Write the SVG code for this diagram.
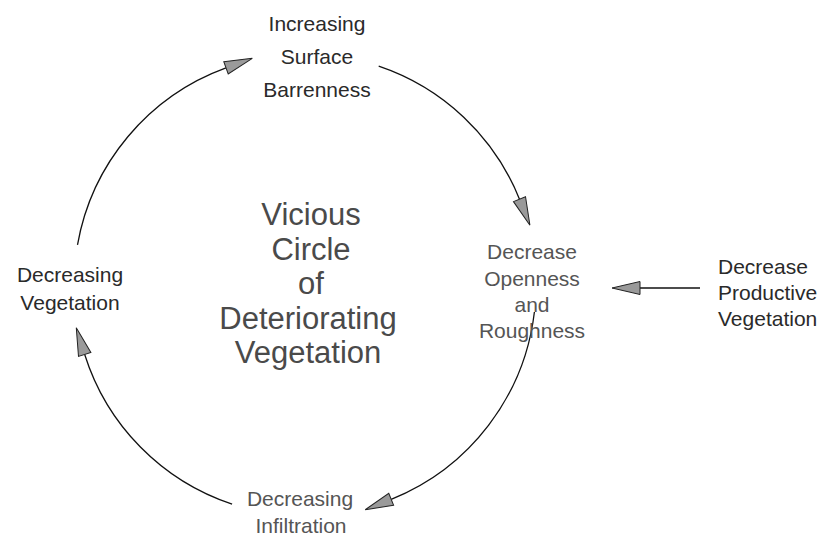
<svg xmlns="http://www.w3.org/2000/svg" width="831" height="537" viewBox="0 0 831 537">
<style>
.t{font-family:"Liberation Sans",Arial,sans-serif;font-size:21px;text-anchor:middle;fill:#2a2a2a}
.l{fill:#555}
.title{font-family:"Liberation Sans",Arial,sans-serif;font-size:31px;text-anchor:middle;fill:#4a4a4a}
.c{fill:none;stroke:#111;stroke-width:1.3}
</style>
<defs>
<marker id="ah" markerUnits="userSpaceOnUse" markerWidth="30" markerHeight="16" refX="0" refY="8" orient="auto" overflow="visible">
<path d="M0,1.5 L28,8 L0,14.5 Z" fill="#9a9a9a" stroke="#222" stroke-width="1"/>
</marker>
</defs>
<rect width="831" height="537" fill="#fff"/>
<g id="connectors">
<path class="c" d="M77.5,244.9 A231,231 0 0 1 226,67.9" marker-end="url(#ah)"/>
<path class="c" d="M378.7,66.1 A231,231 0 0 1 519.5,199.2" marker-end="url(#ah)"/>
<path class="c" d="M534.4,312 A231,231 0 0 1 391.2,499.3" marker-end="url(#ah)"/>
<path class="c" d="M232.1,504.2 A231,231 0 0 1 84.7,354.5" marker-end="url(#ah)"/>
<path class="c" d="M700,288 L640,288" marker-end="url(#ah)"/>
</g>
<g id="node-barrenness">
<text class="t" x="317" y="31">Increasing</text>
<text class="t" x="317" y="64">Surface</text>
<text class="t" x="317" y="97">Barrenness</text>
</g>
<g id="node-openness">
<text class="t l" x="532" y="259">Decrease</text>
<text class="t l" x="532" y="286">Openness</text>
<text class="t l" x="532" y="312">and</text>
<text class="t l" x="532" y="338">Roughness</text>
</g>
<g id="node-productive">
<text class="t" x="718" y="274" style="text-anchor:start">Decrease</text>
<text class="t" x="718" y="300" style="text-anchor:start">Productive</text>
<text class="t" x="718" y="326" style="text-anchor:start">Vegetation</text>
</g>
<g id="node-infiltration">
<text class="t l" x="300" y="506">Decreasing</text>
<text class="t l" x="301" y="533">Infiltration</text>
</g>
<g id="node-vegetation">
<text class="t" x="70" y="282">Decreasing</text>
<text class="t" x="70" y="310">Vegetation</text>
</g>
<g id="title">
<text class="title" x="311" y="225">Vicious</text>
<text class="title" x="311" y="260">Circle</text>
<text class="title" x="311" y="294">of</text>
<text class="title" x="308" y="329">Deteriorating</text>
<text class="title" x="308" y="363">Vegetation</text>
</g>
</svg>
